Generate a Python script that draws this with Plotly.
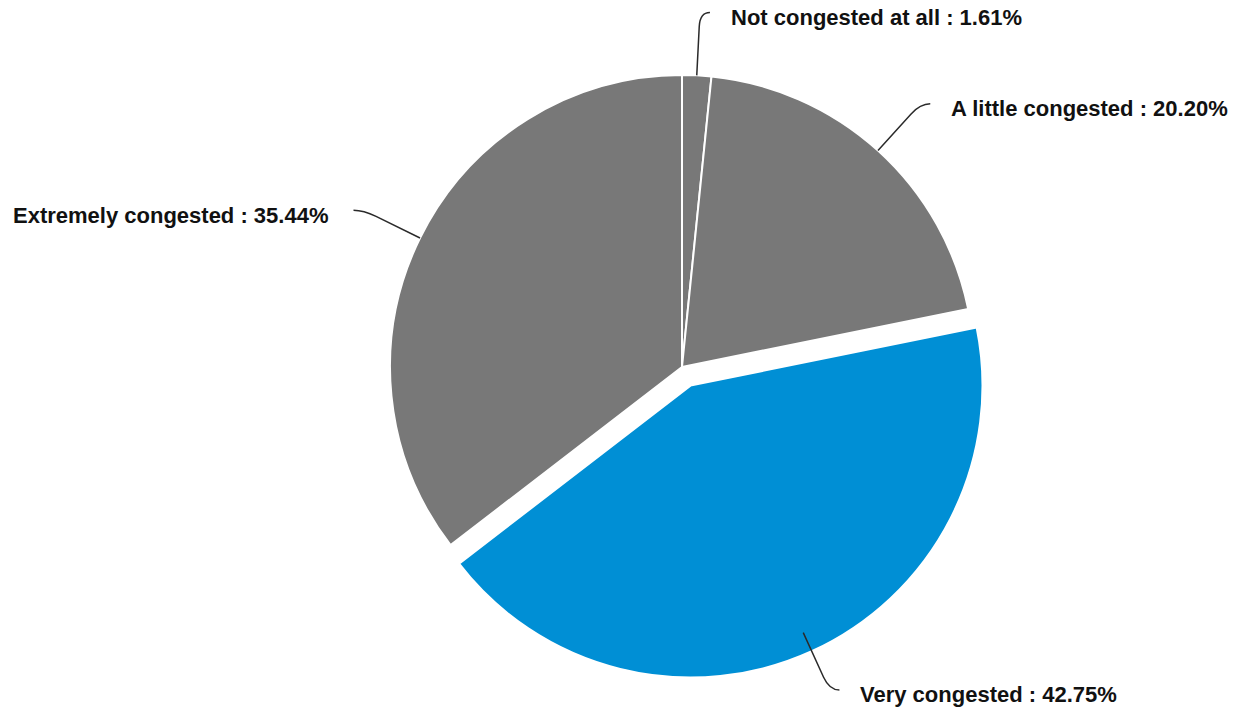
import math
import plotly.graph_objects as go

# ---- data ----
labels = ["Not congested at all", "A little congested", "Very congested", "Extremely congested"]
values = [1.61, 20.20, 42.75, 35.44]
colors = ["#787878", "#787878", "#008fd5", "#787878"]
pulls = [0, 0, 0.07, 0]

# ---- layout constants (pixels) ----
W, H = 1237, 709
PAGE_OFF = 8       # default browser body margin around the plot div
CX, CY, R = 682 - PAGE_OFF, 367 - PAGE_OFF, 292
KNEE = 63          # distance of the connector knee beyond the pie edge
HOOK = 10          # horizontal end of connector
GAP_R, GAP_L = 19, 24
TEXT_DY = 5

max_pull = max(pulls)
half = R * (1 + max_pull)
dom_x = [(CX - half) / W, (CX + half) / W]
dom_y = [1 - (CY + half) / H, 1 - (CY - half) / H]

fig = go.Figure()
fig.add_trace(go.Pie(
    labels=labels, values=values, sort=False, direction="clockwise", rotation=0,
    pull=pulls,
    marker=dict(colors=colors, line=dict(color="white", width=2)),
    textinfo="none", hoverinfo="label+percent",
    domain=dict(x=dom_x, y=dom_y), showlegend=False,
))

total = sum(values)
cum = 0.0
shapes = []
annotations = []
for lab, v in zip(labels, values):
    mid = (cum + v / 2) / total * 2 * math.pi
    cum += v
    dx, dy = math.sin(mid), -math.cos(mid)
    p0 = (CX + R * dx, CY + R * dy)
    k = (CX + (R + KNEE) * dx, CY + (R + KNEE) * dy)
    sign = 1 if dx >= 0 else -1
    e = (k[0] + sign * HOOK, k[1])
    vx, vy = p0[0] - k[0], p0[1] - k[1]
    n = math.hypot(vx, vy)
    kp = (k[0] + vx / n * 14, k[1] + vy / n * 14)
    path = (f"M {p0[0]:.2f},{p0[1]:.2f} L {kp[0]:.2f},{kp[1]:.2f} "
            f"Q {k[0]:.2f},{k[1]:.2f} {e[0]:.2f},{e[1]:.2f}")
    shapes.append(dict(type="path", path=path, xref="x", yref="y",
                       line=dict(color="#2a2a2a", width=1.5)))
    pct = v / total * 100
    annotations.append(dict(
        x=e[0] + sign * (GAP_R if sign > 0 else GAP_L), y=e[1] + TEXT_DY,
        xref="x", yref="y",
        text=f"<b>{lab} : {pct:.2f}%</b>", showarrow=False,
        xanchor="left" if sign > 0 else "right", yanchor="middle",
        font=dict(family="Liberation Sans, Arial, sans-serif", size=22, color="#111111"),
    ))

fig.update_layout(
    width=W, height=H,
    margin=dict(l=0, r=0, t=0, b=0),
    paper_bgcolor="white", plot_bgcolor="white",
    xaxis=dict(range=[0, W], visible=False, fixedrange=True, domain=[0, 1]),
    yaxis=dict(range=[H, 0], visible=False, fixedrange=True, domain=[0, 1]),
    shapes=shapes, annotations=annotations, showlegend=False,
)

fig.write_html("out.html")
